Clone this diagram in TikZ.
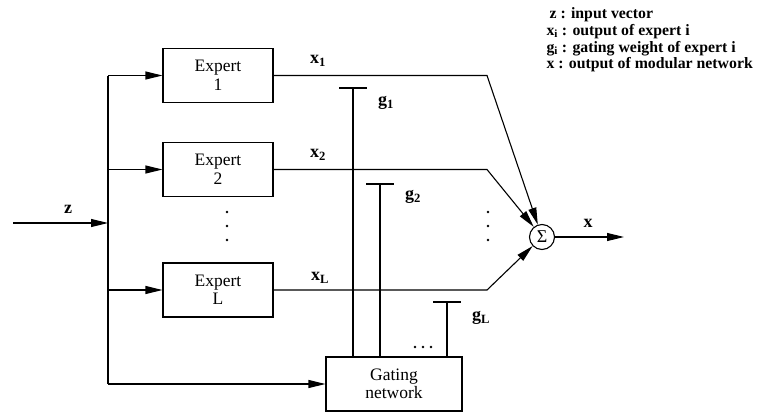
\documentclass[tikz,border=0pt]{standalone}
\usepackage{fontspec}
\setmainfont{Liberation Serif}
\usetikzlibrary{arrows.meta,calc}
\begin{document}
\begin{tikzpicture}[x=1pt,y=-1pt,
  line width=1.1pt,
  arr/.style={-{Triangle[length=17pt,width=8pt]}},
  box/.style={draw,minimum width=110pt,minimum height=54pt,inner sep=0pt,align=center,
    font=\fontsize{17.5}{18.5}\selectfont},
  lbl/.style={font=\fontsize{18}{20}\selectfont\bfseries,inner sep=0pt},
  leg/.style={font=\fontsize{15.8}{16}\selectfont\bfseries,inner sep=0pt,anchor=base west},
  dot/.style={circle,fill,inner sep=0pt,minimum size=2.6pt}]
\useasboundingbox (0,0) rectangle (763,413);
% boxes
\node[box] (e1) at (218,75.5) {Expert\\1};
\node[box] (e2) at (218,169.5) {Expert\\2};
\node[box] (eL) at (218,290) {Expert\\L};
\node[box,minimum width=136pt] (gate) at (394,384) {Gating\\network};
\node[draw,circle,minimum size=25pt,inner sep=0pt,font=\fontsize{18}{20}\selectfont] (sig) at (542,237) {Σ};
% input bus
\coordinate (zin) at (13,223);
\coordinate (zj) at (108,223);
\coordinate (bt) at (108,75.5);
\coordinate (b2) at (108,169.5);
\coordinate (bL) at (108,290);
\coordinate (bb) at (108,384);
\draw[arr] (zin) -- (zj);
\draw (bt) -- (bb);
\draw[arr] (bt) -- (e1);
\draw[arr] (b2) -- (e2);
\draw[arr] (bL) -- (eL);
\draw[arr] (bb) -- (gate);
% outputs
\coordinate (k1) at (487,75.5);
\coordinate (k2) at (487,169.5);
\coordinate (kL) at (487,290);
\draw[arr] (e1.east) -- (k1) -- (sig);
\draw[arr] (e2.east) -- (k2) -- (sig);
\draw[arr] (eL.east) -- (kL) -- (sig);
\coordinate (xo) at (624,237);
\draw[arr] (sig) -- (xo);
% gating weights
\coordinate (t1) at (353,88);
\coordinate (t2) at (380,184);
\coordinate (tL) at (447,302);
\foreach \t in {t1,t2,tL}{
  \draw (gate.north -| \t) -- (\t);
  \draw ($(\t)+(-14,0)$) -- ($(\t)+(14,0)$);
}
% labels
\node[lbl] (lz) at (68,209) {z};
\node[lbl] (lx1) at (318,61) {x\textsubscript{1}};
\node[lbl] (lx2) at (318,155) {x\textsubscript{2}};
\node[lbl] (lxL) at (320,278) {x\textsubscript{L}};
\node[lbl] (lg1) at (386,103) {g\textsubscript{1}};
\node[lbl] (lg2) at (413,197) {g\textsubscript{2}};
\node[lbl] (lgL) at (481,318) {g\textsubscript{L}};
\node[lbl] (lx) at (588,223) {x};
% dots
\foreach \y in {212,226,240}{
  \node[dot] at (227,\y) {};
  \node[dot] at (488,\y) {};
}
\foreach \x in {415,423,431}{
  \node[dot] at (\x,347) {};
}
% legend
\node[leg] (l1) at (549,18) {z : input vector};
\node[leg] (l2) at (546,35) {x\textsubscript{i} : output of expert i};
\node[leg] (l3) at (546,52) {g\textsubscript{i} : gating weight of expert i};
\node[leg] (l4) at (546,68) {x : output of modular network};
\end{tikzpicture}
\end{document}
